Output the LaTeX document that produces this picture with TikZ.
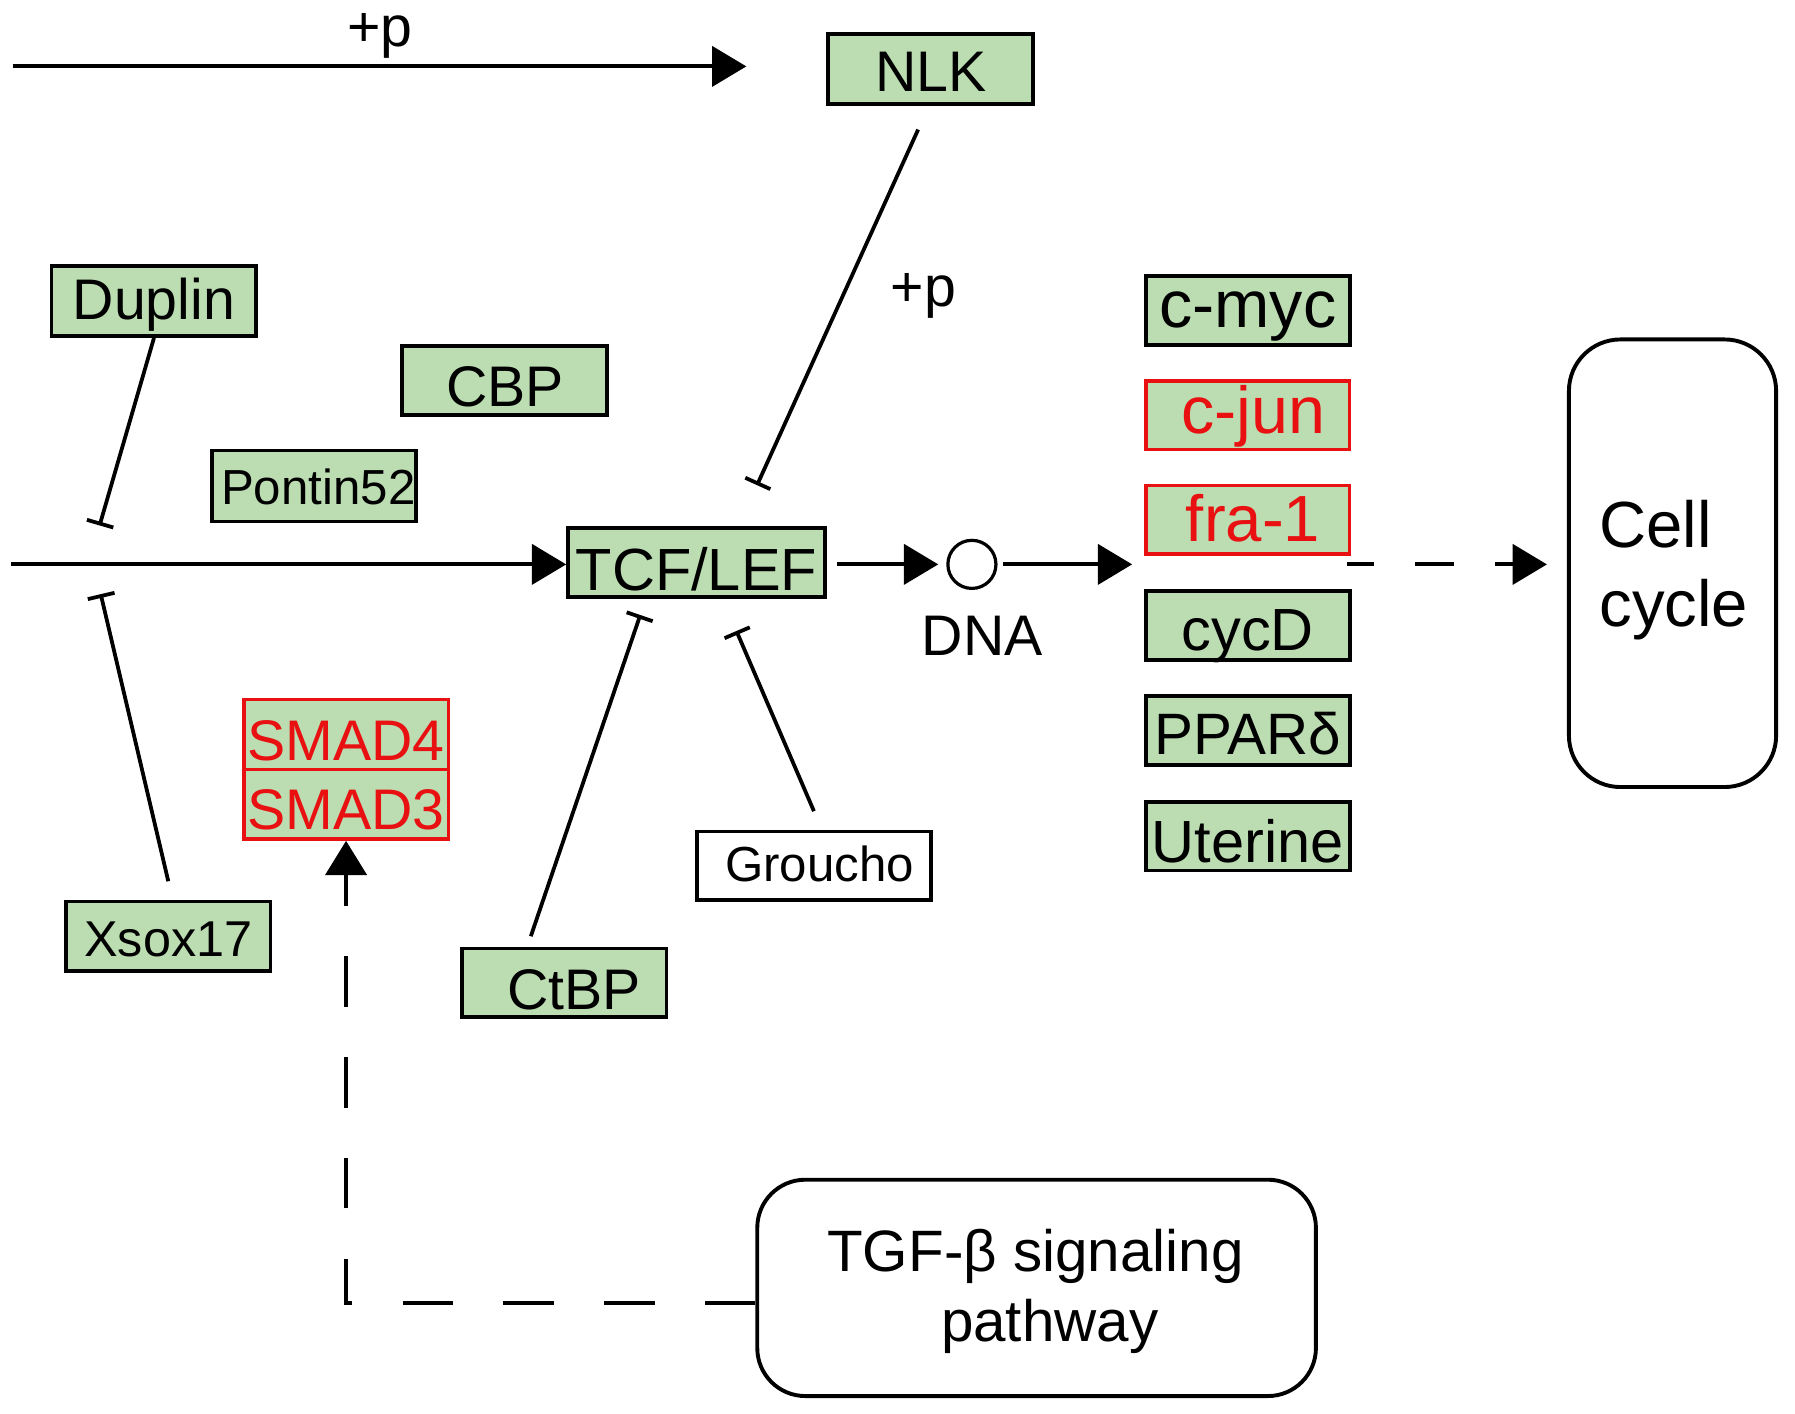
\documentclass[tikz,border=0pt]{standalone}
\usepackage{fontspec}
\setmainfont{Liberation Sans}
\usetikzlibrary{arrows.meta,calc}
\definecolor{kgreen}{RGB}{188,220,178}
\definecolor{kred}{RGB}{232,16,16}
\newcommand{\kfs}[1]{\fontsize{#1pt}{#1pt}\selectfont}
\begin{document}
\begin{tikzpicture}[x=1pt,y=-1pt,
  gbox/.style={draw=black, line width=3.4pt, fill=kgreen, inner sep=0pt, minimum width=179pt, minimum height=60pt, text depth=0pt, font=\kfs{50}},
  rbox/.style={gbox, draw=kred, text=kred, line width=3pt},
  wbox/.style={gbox, fill=white},
  rnd/.style={draw=black, line width=3.4pt, fill=white, inner sep=0pt},
  act/.style={line width=3.6pt, -{Triangle[length=30pt,width=35pt]}},
  inh/.style={line width=3.3pt, -{Bar[width=24pt]}},
  dsh/.style={line width=3.6pt, dash pattern=on 44pt off 44pt},
  lbl/.style={anchor=base, inner sep=0pt, font=\kfs{50}},
]
\useasboundingbox (0,0) rectangle (1568,1234.4);
% boxes
\node[gbox, minimum height=61pt, text height=40pt] (nlk) at (813,60) {NLK};
\node[gbox, minimum height=61pt, text height=33pt] (duplin) at (134.5,263) {Duplin};
\node[gbox, text height=45pt] (cbp) at (441,332.5) {CBP};
\node[gbox, minimum width=178pt, minimum height=62pt, text height=33pt, font=\kfs{43}] (pontin) at (274,424.5) {\hspace*{8pt}Pontin52};
\node[gbox, minimum width=224pt, text height=48pt, font=\kfs{52}] (tcf) at (608.3,491.5) {TCF/LEF};
\node[rbox, minimum width=178.5pt, minimum height=61pt, text height=46pt] (smad4) at (302.3,641.5) {SMAD4};
\node[rbox, minimum width=178.5pt, minimum height=61pt, text height=45pt] (smad3) at (302.3,702.5) {SMAD3};
\node[gbox, minimum width=178.5pt, minimum height=61pt, text height=35pt, font=\kfs{44}] (xsox) at (147,818) {Xsox17};
\node[gbox, text height=47pt] (ctbp) at (492.7,858.5) {\hspace*{18pt}CtBP};
\node[wbox, minimum width=205pt, text height=28pt, font=\kfs{43}] (groucho) at (711,756.3) {\hspace*{10pt}Groucho};
% right column
\node[gbox, minimum width=178pt, text height=30pt, font=\kfs{58}] (cmyc) at (1090,271) {c-myc};
\node[rbox, minimum width=178pt, text height=32pt, font=\kfs{58}] (cjun) at (1090,362.7) {\hspace*{10pt}c-jun};
\node[rbox, minimum width=178pt, text height=37pt, font=\kfs{57}] (fra) at (1090,454.1) {\hspace*{9pt}fra-1};
\node[gbox, minimum width=178pt, text height=44pt, font=\kfs{52}] (cycd) at (1090,546.6) {cycD};
\node[gbox, minimum width=178pt, text height=42pt, font=\kfs{51}] (ppar) at (1090,638.2) {PPARδ};
\node[gbox, minimum width=178pt, text height=46pt, font=\kfs{52}] (uter) at (1090,730.4) {Uterine};
% cell cycle
\node[rnd, rounded corners=45pt, minimum width=181pt, minimum height=391pt] (cell) at (1461,492) {};
\node[lbl, anchor=base west, font=\kfs{57}] (celltxt) at (1397,478) {Cell};
\node[lbl, anchor=base west, font=\kfs{57}] (cycletxt) at (1397,547) {cycle};
% TGF
\node[rnd, rounded corners=42pt, minimum width=488pt, minimum height=189pt] (tgf) at (905.5,1125) {};
\node[lbl, font=\kfs{51}] (tgftxt) at (904.5,1111) {TGF-β signaling};
\node[lbl, font=\kfs{51}] (pathtxt) at (917,1172) {pathway};
% DNA
\node[circle, draw=black, line width=2.8pt, minimum size=42pt, inner sep=0pt] (dna) at (849,493) {};
\node[lbl] (dnatxt) at (858,573) {DNA};
% +p labels
\node[lbl] (p1) at (332,41) {+p};
\node[lbl] (p2) at (806.5,268) {+p};
% coordinates
\coordinate (topstart) at (11,58);
\coordinate (topend) at (652,58);
\coordinate (mainstart) at (10,493);
\coordinate (colin) at (989,493);
\coordinate (colout) at (1177,493);
\coordinate (dupbar) at (87,459);
\coordinate (xsoxbar) at (88,519);
% activations
\draw[act] (topstart) -- (topend);
\draw[act] (mainstart) -- (mainstart -| tcf.west);
\draw[act, shorten <=9pt, shorten >=7pt] (tcf.east |- dna) -- (dna.west);
\draw[act, shorten <=5pt] (dna.east) -- (colin);
\draw[act, dash pattern=on 34pt off 36pt, dash phase=11pt, shorten >=17.5pt] (colout) -- (colout -| cell.west);
% inhibitions
\draw[inh] ([xshift=-11pt,yshift=-21pt]nlk.south) -- ($(tcf.north)+(53,-36)$);
\draw[inh] (duplin.south) -- (dupbar);
\draw[inh] ([yshift=16pt]xsox.north) -- (xsoxbar);
\draw[inh] ([xshift=-29pt,yshift=9pt]ctbp.north) -- ($(tcf.south)+(-49,14)$);
\draw[inh] ([yshift=16pt]groucho.north) -- ($(tcf.south)+(35,28)$);
% TGF -> SMAD
\draw[dsh, -{Triangle[length=30pt,width=36pt]}] ([yshift=-13pt]tgf.west) -| (smad3.south);
\end{tikzpicture}
\end{document}
